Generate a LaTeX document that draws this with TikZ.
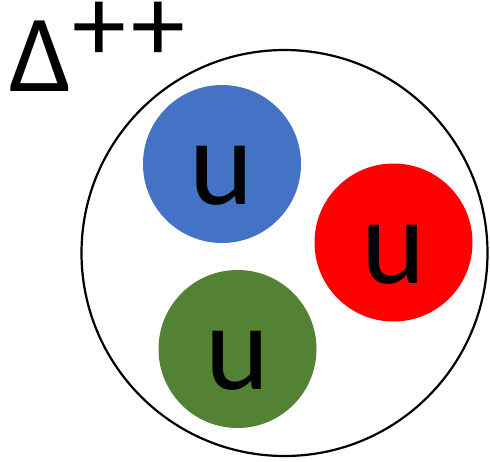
\documentclass[tikz,border=0pt]{standalone}
\usepackage{fontspec}
\setmainfont{Carlito}
\definecolor{qblue}{HTML}{4472C4}
\definecolor{qred}{HTML}{FF0000}
\definecolor{qgreen}{HTML}{548235}
\begin{document}
\begin{tikzpicture}[x=1pt,y=-1pt,
  quark/.style={circle,minimum size=158pt,inner sep=0pt,text height=81pt,text depth=0pt,font=\fontsize{122}{122}\selectfont},
  hadron/.style={circle,draw=black,line width=2.2pt,minimum size=406pt,inner sep=0pt}]
\useasboundingbox (0,0) rectangle (490,461);
\node[hadron] (p) at (284.5,253) {};
\node[quark,fill=qblue] (b) at (222,164) {u};
\node[quark,fill=qred] (r) at (393.5,242.5) {u};
\node[quark,fill=qgreen] (g) at (237.5,349) {u};
\node[anchor=base,inner sep=0pt,font=\fontsize{110}{110}\selectfont] (d) at (40.5,91) {Δ};
\node[anchor=base west,inner sep=0pt,text height=54pt,text depth=0pt,font=\fontsize{108}{108}\selectfont] (c) at (72,61) {+\kern6pt+};
\end{tikzpicture}
\end{document}
